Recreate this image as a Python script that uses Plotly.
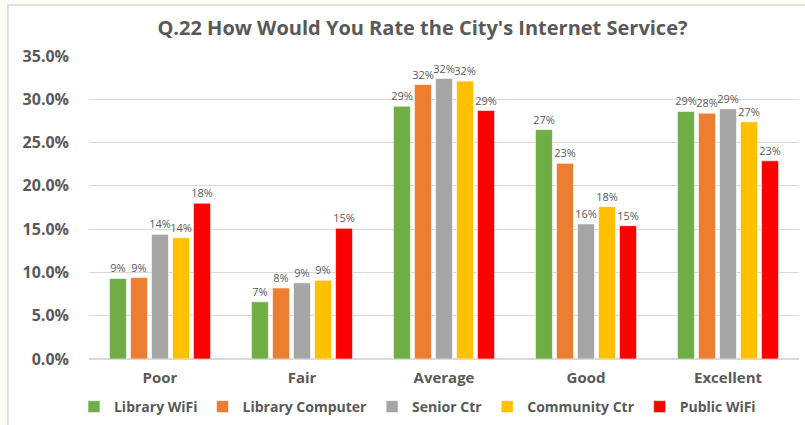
import plotly.graph_objects as go

categories = ['Poor', 'Fair', 'Average', 'Good', 'Excellent']

library_wifi = [0.093, 0.066, 0.292, 0.265, 0.286]
library_computer = [0.094, 0.082, 0.317, 0.226, 0.284]
senior_ctr = [0.144, 0.088, 0.324, 0.156, 0.289]
community_ctr = [0.140, 0.091, 0.321, 0.176, 0.274]
public_wifi = [0.180, 0.151, 0.287, 0.154, 0.229]

series = [
    ('Library WiFi', library_wifi, '#70ad47'),
    ('Library Computer', library_computer, '#ed7d31'),
    ('Senior Ctr', senior_ctr, '#a5a5a5'),
    ('Community Ctr', community_ctr, '#ffc000'),
    ('Public WiFi', public_wifi, '#ff0000'),
]

FONT = 'Open Sans'
GRAY = '#595959'

fig = go.Figure()
for name, vals, color in series:
    fig.add_trace(go.Bar(
        x=categories,
        y=vals,
        name=name,
        marker=dict(color=color, line=dict(color='rgba(255,255,255,0.6)', width=1)),
        texttemplate='%{y:.0%}',
        textposition='outside',
        textfont=dict(family=FONT, size=11, color=GRAY),
        constraintext='none',
        cliponaxis=False,
    ))

# plot area spans x 89..798 px, y 56..359 px
def px_x(p):
    return (p - 89) / 709

def px_y(p):
    return (359 - p) / 303

# white chart frame, open on the right and bottom edges
fig.add_shape(
    type='rect', xref='paper', yref='paper', layer='below',
    x0=px_x(8), x1=px_x(815), y0=px_y(440), y1=px_y(5),
    fillcolor='white', line=dict(color='#d9d9d9', width=1.5),
)

fig.update_layout(
    width=805,
    height=425,
    margin=dict(l=89, r=6, t=56, b=66, autoexpand=False),
    paper_bgcolor='#fffcf5',
    plot_bgcolor='rgba(0,0,0,0)',
    barmode='group',
    bargap=0.26,
    bargroupgap=0.19,
    title=dict(
        text="Q.22 How Would You Rate the City's Internet Service?",
        font=dict(family=FONT, size=20, color=GRAY, weight='bold'),
        x=px_x(422), xref='paper', xanchor='center',
        y=1 - 28 / 425, yanchor='middle',
    ),
    legend=dict(
        orientation='h',
        x=px_x(417), xanchor='center',
        y=px_y(407), yanchor='middle',
        font=dict(family=FONT, size=14, color=GRAY, weight='bold'),
        itemwidth=30,
        tracegroupgap=0,
        bgcolor='rgba(0,0,0,0)',
    ),
    xaxis=dict(
        tickfont=dict(family=FONT, size=15, color=GRAY, weight='bold'),
        showline=False,
        ticks='',
        ticklabelstandoff=8,
    ),
    yaxis=dict(
        range=[0, 0.35],
        dtick=0.05,
        tickformat='.1%',
        tickfont=dict(family=FONT, size=16, color=GRAY, weight='bold'),
        gridcolor='#d9d9d9',
        zeroline=True,
        zerolinecolor='#d9d9d9',
        ticklabelstandoff=19,
    ),
    showlegend=True,
)

fig.write_html('out.html', config={'displayModeBar': False},
               post_script="document.body.style.margin='0';")
